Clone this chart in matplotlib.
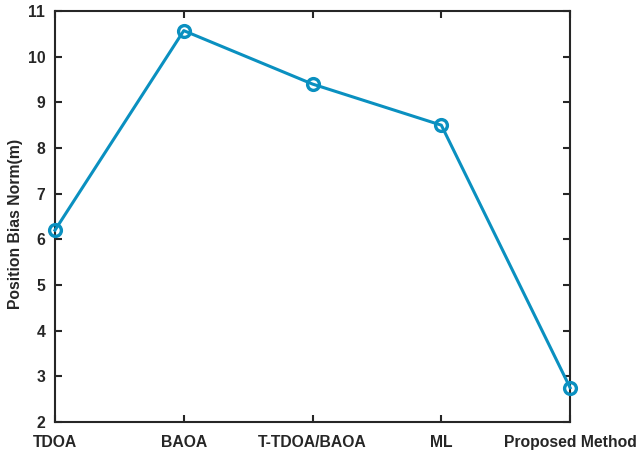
import matplotlib
matplotlib.use('Agg')
import matplotlib.pyplot as plt

methods = ['TDOA', 'BAOA', 'T-TDOA/BAOA', 'ML', 'Proposed Method']
bias = [6.2, 10.57, 9.4, 8.5, 2.75]
yticks = [2, 3, 4, 5, 6, 7, 8, 9, 10, 11]

plt.rcParams['font.family'] = ['Liberation Sans', 'DejaVu Sans']
plt.rcParams['font.weight'] = 'bold'

fig = plt.figure(figsize=(6.37, 4.51), dpi=100)
ax = fig.add_axes([0.0863, 0.0643, 0.8087, 0.9113])

x = list(range(1, len(methods) + 1))
ax.plot(x, bias, color='#0a90c0', lw=2.2, marker='o', ms=8.5,
        mfc='none', mew=2.4, clip_on=False, zorder=3)

ax.set_xlim(1, 5)
ax.set_ylim(2, 11)
ax.set_xticks(x)
ax.set_xticklabels(methods)
ax.set_yticks(yticks)
ax.tick_params(direction='in', length=5, width=1.5, colors='#262626',
               labelsize=11.3, top=True, right=True)
ax.tick_params(axis='x', pad=9)
ax.tick_params(axis='y', pad=7)
for lbl in ax.get_xticklabels() + ax.get_yticklabels():
    lbl.set_fontweight('bold')
for s in ax.spines.values():
    s.set_linewidth(1.5)
    s.set_color('#262626')
ax.set_ylabel('Position Bias Norm(m)', fontsize=11.3, fontweight='bold',
              color='#262626')
ax.yaxis.set_label_coords(-0.063, 0.482)

fig.savefig('out.png', dpi=100)
